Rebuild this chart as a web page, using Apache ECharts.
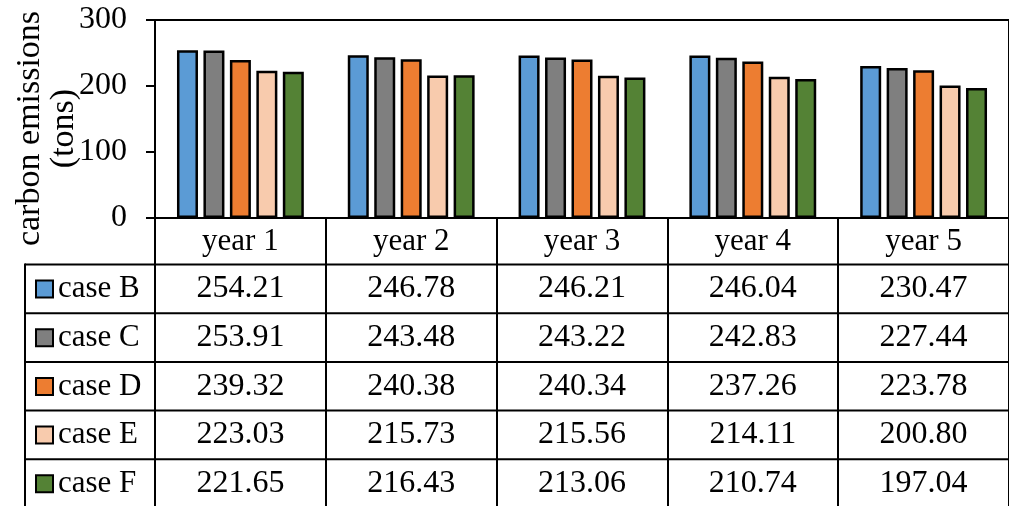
<!DOCTYPE html>
<html>
<head>
<meta charset="utf-8">
<style>
  html, body { margin: 0; padding: 0; background: #fff; }
  #chart { width: 1009px; height: 506px; }
</style>
<script src="https://cdn.jsdelivr.net/npm/echarts@6/dist/echarts.min.js"></script>
</head>
<body>
<div id="chart"></div>
<script>
// Annual carbon emissions per case
const categories = ['year 1', 'year 2', 'year 3', 'year 4', 'year 5'];
const caseNames = ['case B', 'case C', 'case D', 'case E', 'case F'];
const caseB = [254.21, 246.78, 246.21, 246.04, 230.47];
const caseC = [253.91, 243.48, 243.22, 242.83, 227.44];
const caseD = [239.32, 240.38, 240.34, 237.26, 223.78];
const caseE = [223.03, 215.73, 215.56, 214.11, 200.80];
const caseF = [221.65, 216.43, 213.06, 210.74, 197.04];
const caseValues = [caseB, caseC, caseD, caseE, caseF];
const caseColors = ['#5B9BD5', '#7F7F7F', '#ED7D31', '#F8CBAD', '#548235'];
const yTicks = [0, 100, 200, 300];
const yTitle = 'carbon emissions\n(tons)';

const FONT = '"Liberation Serif", "Times New Roman", serif';
const FS = 31;

// table geometry (rows under the category axis)
const tableTop = 264.5;
const rowH = 48.7;
const tableLeft = 25;
const tableRight = 1025;

const chart = echarts.init(document.getElementById('chart'), null, { renderer: 'canvas' });

const series = caseNames.map((name, i) => ({
  name: name,
  type: 'bar',
  data: caseValues[i],
  barWidth: 21,
  barGap: '26%',
  itemStyle: { color: caseColors[i], borderColor: '#000', borderWidth: 2.5 },
  emphasis: { disabled: true }
}));

chart.setOption({
  animation: false,
  backgroundColor: '#fff',
  textStyle: { fontFamily: FONT, color: '#000' },
  grid: {
    left: 155, top: 20, width: 866, height: 198,
    show: true, borderColor: '#000', borderWidth: 2, backgroundColor: 'transparent'
  },
  legend: {
    orient: 'vertical',
    left: 35,
    top: 273.5,
    height: 245,
    padding: 0,
    itemWidth: 17,
    itemHeight: 17,
    itemGap: 17.7,
    itemTextGap: 8,
    icon: 'rect',
    selectedMode: false,
    itemStyle: { borderColor: '#000', borderWidth: 2 },
    textStyle: { fontFamily: FONT, fontSize: FS, color: '#000', lineHeight: 31 },
    data: caseNames
  },
  xAxis: {
    type: 'category',
    data: categories,
    axisLine: { show: true, lineStyle: { color: '#000', width: 2 } },
    axisTick: { show: true, interval: 0, length: 300, lineStyle: { color: '#000', width: 2 } },
    axisLabel: { interval: 0, margin: 8, fontFamily: FONT, fontSize: FS, color: '#000', lineHeight: 31 },
    splitLine: { show: false }
  },
  yAxis: {
    type: 'value',
    min: yTicks[0],
    max: yTicks[yTicks.length - 1],
    interval: 100,
    axisLine: { show: true, lineStyle: { color: '#000', width: 2 } },
    axisTick: { show: true, length: 9, lineStyle: { color: '#000', width: 2 } },
    axisLabel: { margin: 28, fontFamily: FONT, fontSize: 32, color: '#000' },
    splitLine: { show: false }
  },
  series: series
});

// Data table drawn under the category axis, columns taken from the axis scale
function drawTable() {
  const elements = [];
  const colX = categories.map(c => chart.convertToPixel({ xAxisIndex: 0 }, c));

  // horizontal row rules
  for (let r = 0; r <= caseNames.length; r++) {
    const y = tableTop + r * rowH;
    elements.push({
      type: 'line', silent: true,
      shape: { x1: tableLeft, y1: y, x2: tableRight, y2: y },
      style: { stroke: '#000', lineWidth: 2 }
    });
  }
  // left edge of the legend column
  elements.push({
    type: 'line', silent: true,
    shape: { x1: tableLeft, y1: tableTop - 1, x2: tableLeft, y2: 520 },
    style: { stroke: '#000', lineWidth: 2 }
  });

  // cell values
  caseValues.forEach((vals, r) => {
    const cy = tableTop + r * rowH + rowH / 2;
    vals.forEach((v, c) => {
      elements.push({
        type: 'text', silent: true,
        x: colX[c], y: cy,
        style: {
          text: v.toFixed(2),
          font: '32px ' + FONT,
          fill: '#000',
          align: 'center',
          verticalAlign: 'middle'
        }
      });
    });
  });

  // y-axis title
  elements.push({
    type: 'text', silent: true,
    x: 47, y: 128.5, rotation: Math.PI / 2,
    style: {
      text: yTitle,
      font: '34px ' + FONT,
      fill: '#000',
      align: 'center',
      verticalAlign: 'middle',
      lineHeight: 34
    }
  });

  chart.setOption({ graphic: { elements: elements } });
}
drawTable();
</script>
</body>
</html>
